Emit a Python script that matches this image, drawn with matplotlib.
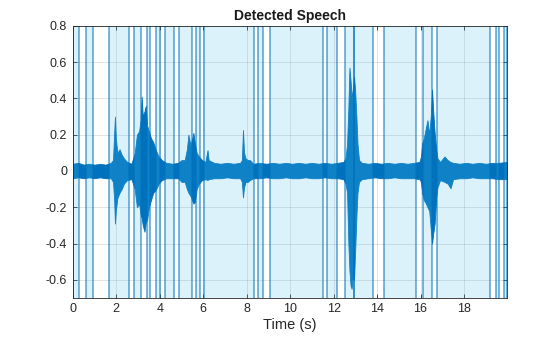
import numpy as np
import matplotlib
matplotlib.use('Agg')
import matplotlib.pyplot as plt

plt.rcParams['font.family'] = ['Liberation Sans', 'DejaVu Sans']

# signal envelope (time in s, upper / lower amplitude)
env_t = [0.00, 0.25, 0.50, 0.75, 1.00, 1.25, 1.50, 1.75, 1.85, 1.90, 1.94, 1.98,
         2.05, 2.15, 2.25, 2.35, 2.50, 2.70, 2.85, 2.95, 3.05, 3.12, 3.17, 3.22,
         3.30, 3.36, 3.42, 3.50, 3.60, 3.70, 3.82, 3.95, 4.10, 4.30, 4.60, 4.85,
         5.00, 5.15, 5.25, 5.32, 5.42, 5.55, 5.62, 5.70, 5.80, 5.95, 6.10, 6.20,
         6.25, 6.50, 6.80, 7.10, 7.40, 7.70, 7.78, 7.83, 7.88, 7.95, 8.05, 8.15,
         8.30, 8.60, 8.90, 9.20, 9.50, 9.80, 10.10, 10.40, 10.70, 11.00, 11.30, 11.60,
         11.90, 12.20, 12.45, 12.55, 12.62, 12.68, 12.73, 12.78, 12.83, 12.88, 12.94, 12.99,
         13.05, 13.10, 13.17, 13.30, 13.60, 13.90, 14.20, 14.50, 14.80, 15.10, 15.40, 15.70,
         15.95, 16.02, 16.07, 16.15, 16.25, 16.32, 16.40, 16.47, 16.53, 16.59, 16.65, 16.72,
         16.78, 16.90, 17.10, 17.25, 17.38, 17.50, 17.80, 18.10, 18.40, 18.70, 19.00, 19.30,
         19.60, 19.97]
env_hi = [0.040, 0.045, 0.035, 0.040, 0.035, 0.040, 0.035, 0.045, 0.060, 0.200, 0.300, 0.180,
          0.100, 0.120, 0.090, 0.070, 0.050, 0.040, 0.100, 0.200, 0.220, 0.280, 0.410, 0.300,
          0.330, 0.360, 0.250, 0.220, 0.180, 0.160, 0.115, 0.080, 0.060, 0.045, 0.040, 0.045,
          0.060, 0.060, 0.120, 0.200, 0.140, 0.210, 0.150, 0.100, 0.080, 0.060, 0.050, 0.115,
          0.060, 0.045, 0.040, 0.045, 0.040, 0.045, 0.060, 0.226, 0.100, 0.070, 0.060, 0.060,
          0.040, 0.045, 0.040, 0.045, 0.040, 0.045, 0.040, 0.045, 0.040, 0.045, 0.040, 0.045,
          0.040, 0.045, 0.050, 0.070, 0.150, 0.350, 0.570, 0.500, 0.400, 0.450, 0.520, 0.450,
          0.300, 0.150, 0.060, 0.045, 0.040, 0.045, 0.040, 0.045, 0.040, 0.045, 0.040, 0.045,
          0.050, 0.080, 0.150, 0.180, 0.240, 0.280, 0.200, 0.300, 0.450, 0.320, 0.210, 0.120,
          0.070, 0.050, 0.080, 0.060, 0.050, 0.045, 0.040, 0.045, 0.040, 0.045, 0.040, 0.045,
          0.045, 0.050]
env_lo = [-0.040, -0.035, -0.040, -0.035, -0.040, -0.035, -0.040, -0.040, -0.060, -0.150, -0.290, -0.220,
          -0.150, -0.120, -0.100, -0.070, -0.050, -0.045, -0.100, -0.200, -0.180, -0.240, -0.260, -0.300,
          -0.335, -0.280, -0.270, -0.200, -0.160, -0.120, -0.105, -0.070, -0.050, -0.040, -0.040, -0.040,
          -0.060, -0.060, -0.100, -0.120, -0.140, -0.180, -0.170, -0.100, -0.070, -0.050, -0.045, -0.050,
          -0.045, -0.040, -0.040, -0.035, -0.040, -0.040, -0.060, -0.145, -0.090, -0.060, -0.060, -0.050,
          -0.040, -0.040, -0.035, -0.040, -0.040, -0.035, -0.040, -0.040, -0.035, -0.040, -0.040, -0.035,
          -0.040, -0.040, -0.045, -0.070, -0.120, -0.400, -0.550, -0.630, -0.650, -0.580, -0.600, -0.450,
          -0.250, -0.120, -0.060, -0.045, -0.040, -0.035, -0.040, -0.040, -0.035, -0.040, -0.040, -0.040,
          -0.045, -0.060, -0.120, -0.160, -0.180, -0.200, -0.220, -0.320, -0.400, -0.340, -0.290, -0.150,
          -0.090, -0.050, -0.060, -0.070, -0.095, -0.045, -0.040, -0.040, -0.035, -0.040, -0.040, -0.040,
          -0.045, -0.045]

# detected speech regions (start, end) in s
speech_start = [0.00, 0.586, 1.647, 2.829, 3.429, 3.830, 4.245, 4.905, 5.662, 6.031, 8.537,
                9.091, 11.68, 12.54, 12.93, 14.33, 16.13, 16.75, 19.47, 19.83]
speech_end = [0.263, 0.909, 2.570, 3.138, 3.567, 4.029, 4.661, 5.491, 5.861, 8.352, 8.736,
              11.50, 12.15, 12.93, 13.82, 15.78, 16.51, 19.21, 19.63, 19.97]

x_ticks = [0, 2, 4, 6, 8, 10, 12, 14, 16, 18]
y_ticks = [-0.6, -0.4, -0.2, 0, 0.2, 0.4, 0.6, 0.8]
y_tick_labels = ['-0.6', '-0.4', '-0.2', '0', '0.2', '0.4', '0.6', '0.8']

fig = plt.figure(figsize=(5.6, 3.37), dpi=100)
ax = fig.add_axes([0.130, 0.116, 0.775, 0.807])

ax.fill_between(env_t, env_lo, env_hi, color='#0072BD', linewidth=0.6, zorder=2)

for s, e in zip(speech_start, speech_end):
    ax.axvspan(s, e, facecolor='#4DBEEE', alpha=0.2, linewidth=0, zorder=3)
    ax.axvline(s, color='#0072BD', alpha=0.6, linewidth=1.2, zorder=4)
    ax.axvline(e, color='#0072BD', alpha=0.6, linewidth=1.2, zorder=4)

ax.set_xlim(0, 19.97)
ax.set_ylim(-0.7, 0.8)
ax.set_xticks(x_ticks)
ax.set_yticks(y_ticks)
ax.set_yticklabels(y_tick_labels)
ax.grid(True, color='#262626', alpha=0.15, linewidth=0.6)
ax.set_axisbelow(True)
ax.tick_params(direction='in', top=True, right=True, length=3, width=0.6,
               labelsize=9, colors='#262626', pad=4)
for sp in ax.spines.values():
    sp.set_color('#262626')
    sp.set_linewidth(0.6)
    sp.set_zorder(6)

ax.set_xlabel('Time (s)', fontsize=10.5, color='#262626', labelpad=2)
ax.set_title('Detected Speech', fontsize=10, fontweight='bold', color='#1a1a1a', pad=4)

fig.savefig('out.png', dpi=100)
